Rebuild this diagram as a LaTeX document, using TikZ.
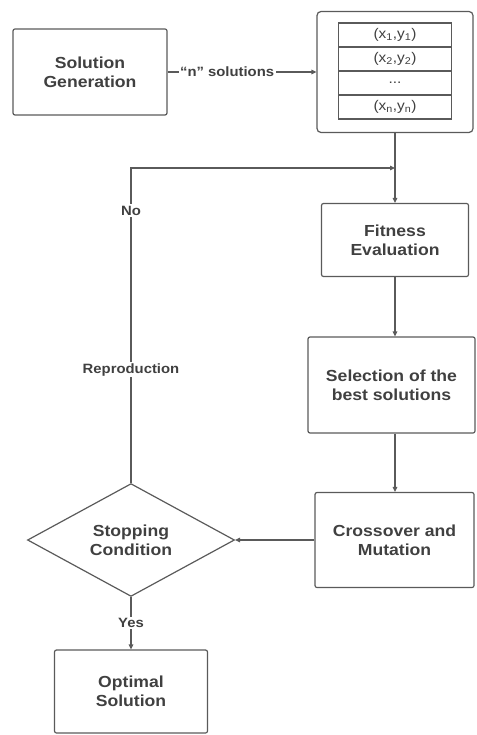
\documentclass[tikz,border=0pt]{standalone}
\usepackage{fontspec}
\setmainfont[FakeStretch=1.1]{Liberation Sans}
\usetikzlibrary{shapes}
\usetikzlibrary{arrows.meta}

\definecolor{linegray}{HTML}{5A5A5A}
\definecolor{textgray}{HTML}{404040}

\begin{document}
\begin{tikzpicture}[x=1pt,y=-1pt,line width=1.2pt,color=linegray,
  proc_node/.style={rectangle,draw,rounded corners=2pt,align=center,text=textgray,font=\bfseries\fontsize{16}{19}\selectfont},
  cell_node/.style={rectangle,draw,minimum width=113pt,minimum height=24pt,inner sep=0pt,text=textgray,font=\fontsize{14}{16}\selectfont},
  dec_node/.style={diamond,draw,align=center,minimum width=207pt,minimum height=107pt,inner sep=0pt,text=textgray,font=\bfseries\fontsize{16}{19}\selectfont},
  lbl_node/.style={fill=white,inner sep=1.5pt,text=textgray,font=\bfseries\fontsize{13.5}{16}\selectfont},
  flow/.style={-{Triangle[length=5pt,width=4.5pt]}}]

	\useasboundingbox (0,0) rectangle (476,735);

	\node[proc_node,minimum width=154pt,minimum height=86pt] (gen) at (90,72) {Solution\\Generation};
	\node[draw,rounded corners=4pt,minimum width=156pt,minimum height=121pt] (pop) at (395,72) {};

	\node[cell_node] (c1) at (395,35) {(x\textsubscript{1},y\textsubscript{1})};
	\node[cell_node] (c2) at (395,59) {(x\textsubscript{2},y\textsubscript{2})};
	\node[cell_node] (c3) at (395,83) {...};
	\node[cell_node] (c4) at (395,107) {(x\textsubscript{n},y\textsubscript{n})};

	\node[proc_node,minimum width=147pt,minimum height=73pt] (fit) at (395,240) {Fitness\\Evaluation};
	\node[proc_node,minimum width=167pt,minimum height=96pt] (sel) at (391.5,385) {Selection of the\\best solutions};
	\node[proc_node,minimum width=159pt,minimum height=95pt] (cro) at (394.5,540) {Crossover and\\Mutation};
	\node[dec_node] (stop) at (131,540) {Stopping\\Condition};
	\node[proc_node,minimum width=153pt,minimum height=83pt] (opt) at (131,691.5) {Optimal\\Solution};

	\coordinate (join) at (395,168);

	\draw[flow] (gen) -- node[lbl_node,pos=0.4] {``n'' solutions} (pop);
	\draw[flow] (pop.south) -- (fit.north);
	\draw[flow] (fit.south) -- (fit.south |- sel.north);
	\draw[flow] (fit.south |- sel.south) -- (fit.south |- cro.north);
	\draw[flow] (cro) -- (stop);
	\draw[flow] (stop) -- node[lbl_node] {Yes} (opt);
	\draw[flow] (stop.north) -- node[lbl_node,pos=0.36] {Reproduction} node[lbl_node,pos=0.865] {No} (stop.north |- join) -- (join);
\end{tikzpicture}
\end{document}
